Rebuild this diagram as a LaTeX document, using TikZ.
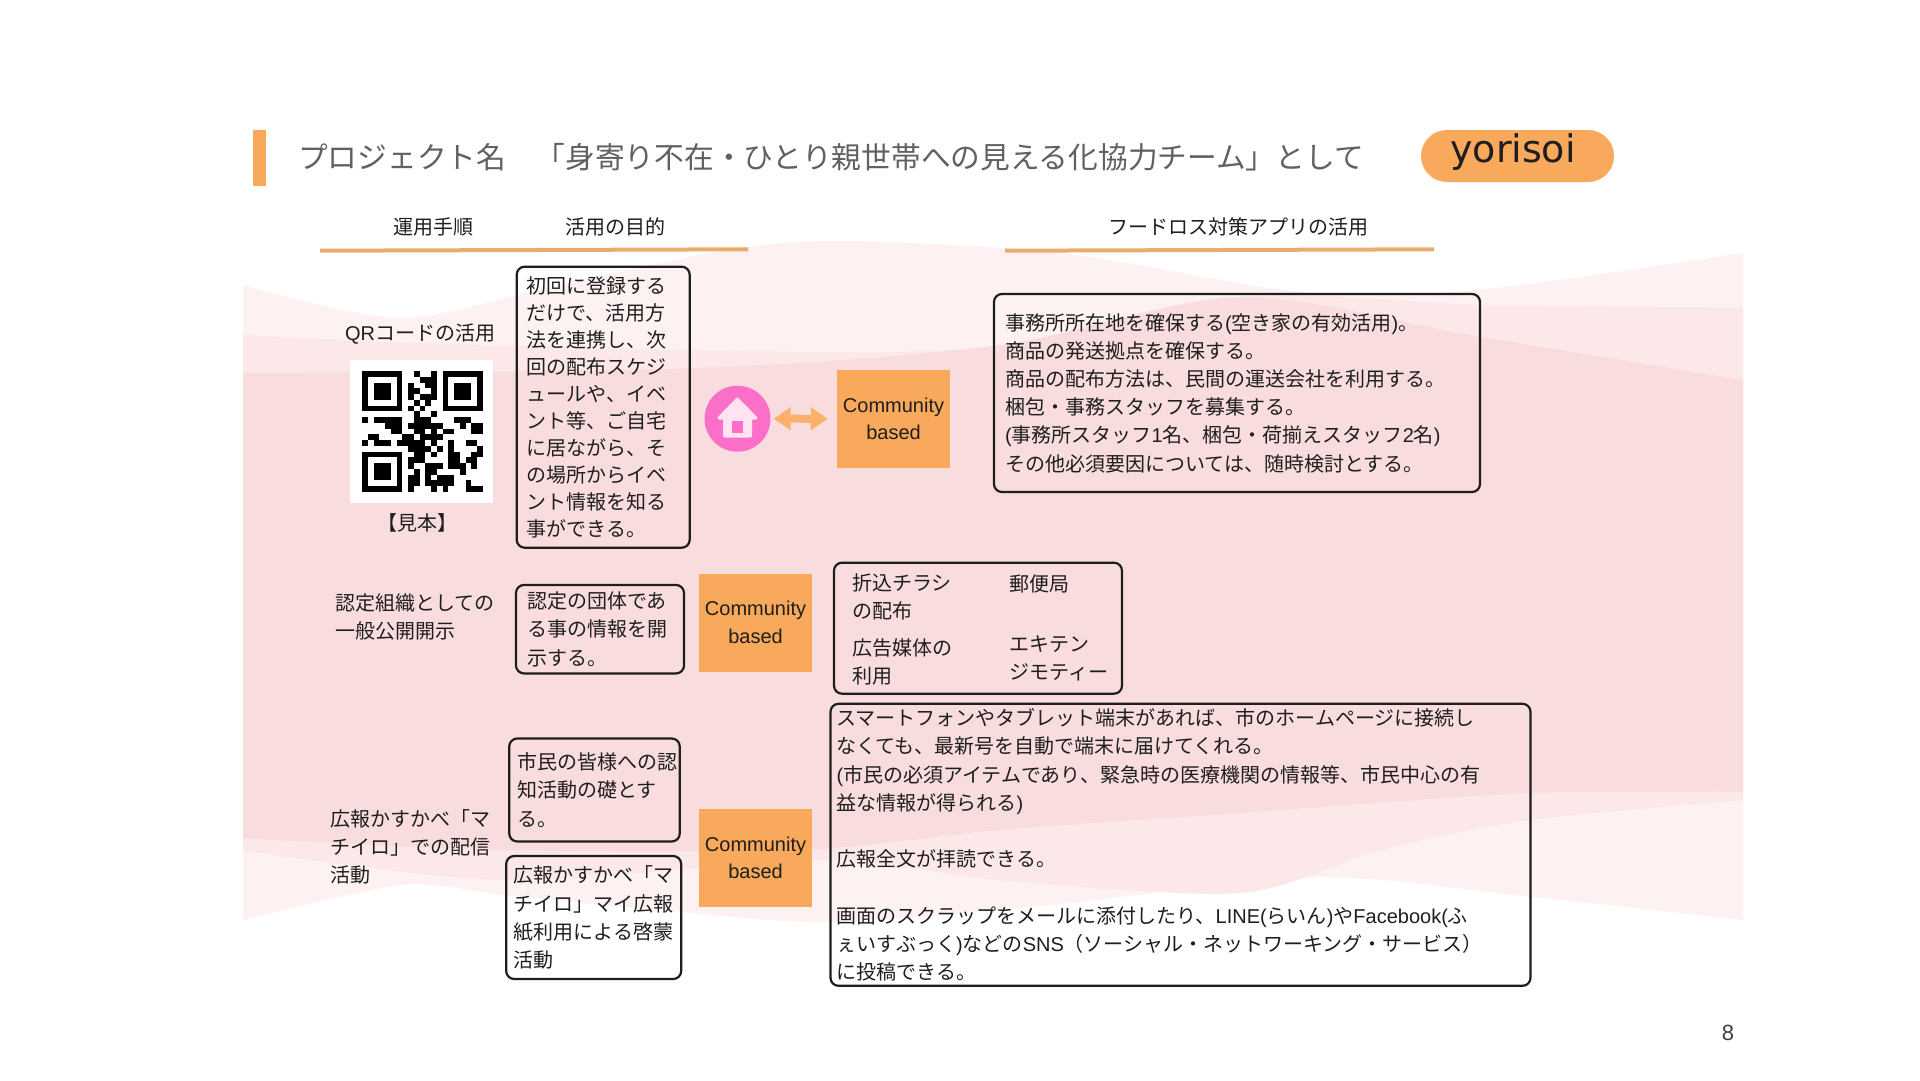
\documentclass[tikz,border=0pt]{standalone}
\usepackage{fontspec}
\setmainfont{Liberation Sans}
\newfontfamily\cjk{Noto Sans CJK JP}
\newcommand{\lat}[1]{{\rmfamily #1}}
\usetikzlibrary{arrows.meta}
\definecolor{barorange}{HTML}{F9A95C}
\definecolor{ruleorange}{HTML}{E8AD6C}
\definecolor{wavelight}{HTML}{FDF1F1}
\definecolor{wavemid}{HTML}{FCE8E8}
\definecolor{wavedark}{HTML}{F9DDDE}
\definecolor{homepink}{HTML}{FB6FC8}
\definecolor{housepale}{HTML}{FDE4F0}
\definecolor{inkdark}{HTML}{1E1E1E}
\begin{document}
\begin{tikzpicture}[x=1pt,y=-1pt]
    % 定义样式
    \tikzstyle{jptext}=[font=\cjk\fontsize{20}{28.2}\selectfont, text=inkdark, align=left, inner sep=0pt]
    \tikzstyle{infobox}=[jptext, draw=inkdark, line width=2.2pt, rounded corners=8pt, inner ysep=0pt]
    \tikzstyle{cbox}=[fill=barorange, font=\fontsize{20}{27.8}\selectfont, text=inkdark, align=center, minimum width=113pt, minimum height=98pt, inner sep=0pt]
    \tikzstyle{headrule}=[line width=4pt, ruleorange]
    \tikzstyle{dblarrow}=[{Triangle[length=17pt,width=22pt]}-{Triangle[length=17pt,width=22pt]}, line width=8pt, barorange!90!white, shorten <=3pt, shorten >=9pt]

    \useasboundingbox (0,0) rectangle (1920,1080);
    \fill[white] (0,0) rectangle (1920,1080);

    % 1. 画背景波浪
    \fill[wavelight] plot[smooth] coordinates {(243,285) (400,318) (560,285) (784,243) (1050,252) (1300,292) (1478,290) (1743,253)}
        -- plot[smooth] coordinates {(1743,920) (1533,897) (1316,877) (1050,905) (829,922) (660,910) (505,895) (402,885) (243,920)} -- cycle;
    \fill[wavemid] plot[smooth] coordinates {(243,335) (480,345) (960,350) (1240,297) (1481,305) (1743,308)}
        -- plot[smooth] coordinates {(1743,800) (1529,820) (1380,850) (1240,893) (1000,880) (820,860) (505,880) (243,850)} -- cycle;
    \fill[wavedark] plot[smooth] coordinates {(243,373) (700,368) (1000,345) (1240,297) (1481,337) (1743,380)}
        -- plot[smooth] coordinates {(1743,792) (1529,793) (1240,813) (1000,830) (800,850) (500,850) (243,838)} -- cycle;

    % 2. 画标题
    \fill[barorange] (253,130) rectangle (266,186);
    \node[font=\cjk\fontsize{29.7}{34}\selectfont, text=black!62, anchor=west, inner sep=0pt] (title) at (298,157)
        {プロジェクト名　「身寄り不在・ひとり親世帯への見える化協力チーム」として};
    \node[fill=barorange, rounded corners=26pt, minimum width=193pt, minimum height=52pt, inner sep=0pt, text=inkdark] (logo) at (1517.5,156) {};
    \node[font=\fontspec{DejaVu Sans}\fontsize{38}{40}\selectfont, text=inkdark, inner sep=0pt] (logotext) at (1513,152) {yorisoi};

    % 3. 画表头
    \node[jptext] (headstep) at (433.5,226.5) {運用手順};
    \node[jptext] (headgoal) at (615,226.5) {活用の目的};
    \node[jptext] (headapp) at (1238,226.5) {フードロス対策アプリの活用};
    \draw[headrule] (320,250.7) -- (748,249.3);
    \draw[headrule] (1005,250.7) -- (1434,249.3);

    % 4. 第一行: 二维码
    \node[jptext] (qrlabel) at (420,333.7) {\lat{QR}コードの活用};
    \fill[white] (350,360) rectangle (493,503);
    \def\qrs{5.75}
    \foreach \fx/\fy in {0/0,14/0,0/14} {
        \fill[black] ({362+\fx*\qrs},{371+\fy*\qrs}) rectangle ++({7*\qrs},{7*\qrs});
        \fill[white] ({362+(\fx+1)*\qrs},{371+(\fy+1)*\qrs}) rectangle ++({5*\qrs},{5*\qrs});
        \fill[black] ({362+(\fx+2)*\qrs},{371+(\fy+2)*\qrs}) rectangle ++({3*\qrs},{3*\qrs});
    }
    \foreach \qy/\qcols in {0/{9,12},1/{10,11,12},2/{8,11,12},3/{8,9,12},4/{8,10,11,12},5/{9,11},6/{8,10},7/{9,12},
        8/{0,2,3,4,5,6,9,10,11,16,17,18},9/{4,5,6,8,9,10,11,12,13,17,19,20},10/{5,6,9,10,12,14,15,19,20},
        11/{1,2,7,8,10,11,12,13},12/{0,2,3,4,6,7,8,9,10,12,15,18,19},13/{8,9,10,11,13,15,20},
        14/{9,10,12,15,16,19,20},15/{8,9,10,15,16,18,19},16/{8,11,12,13,15,16,17,19},17/{9,11,12,17},
        18/{8,9,11,13,14,15},19/{8,9,11,12,13,14,15,18},20/{8,12,14,18,19,20}} {
        \foreach \qx in \qcols {
            \fill[black] ({362+\qx*\qrs},{371+\qy*\qrs}) rectangle ++(5.85,5.85);
        }
    }
    \node[jptext] (qrsample) at (417,523) {【見本】};

    \node[infobox, font=\cjk\fontsize{20}{27}\selectfont, minimum width=173pt, minimum height=281pt, text width=153pt, inner xsep=10pt] (goalqr) at (603.2,407.2)
        {初回に登録する\\だけで、活用方\\法を連携し、次\\回の配布スケジ\\ュールや、イベ\\ント等、ご自宅\\に居ながら、そ\\の場所からイベ\\ント情報を知る\\事ができる。};

    % 房子图标
    \node[circle, fill=homepink, minimum size=66pt, inner sep=0pt] (home) at (737.5,418.7) {};
    \fill[housepale, draw=housepale, line width=3pt, line join=round] (737.3,399) -- (719,418) -- (724.5,418) -- (724.5,436) -- (750.5,436) -- (750.5,418) -- (756,418) -- cycle;
    \fill[homepink] (731.7,421) rectangle (743.3,432.7);

    \node[cbox] (cbtop) at (893.5,418.8) {Community\\based};
    \draw[dblarrow] (home) -- (cbtop);

    \node[infobox, minimum width=486pt, minimum height=198pt, text width=464pt, inner xsep=11pt] (apptop) at (1237,393)
        {事務所所在地を確保する\lat{(}空き家の有効活用\lat{)}。\\商品の発送拠点を確保する。\\商品の配布方法は、民間の運送会社を利用する。\\梱包・事務スタッフを募集する。\\\lat{(}事務所スタッフ\lat{1}名、梱包・荷揃えスタッフ\lat{2}名\lat{)}\\その他必須要因については、随時検討とする。};

    % 5. 第二行: 认定组织
    \node[jptext, anchor=west] (orglabel) at (335,616.6) {認定組織としての\\一般公開開示};
    \node[infobox, minimum width=166pt, minimum height=88.5pt, text width=146pt, inner xsep=11pt] (goalorg) at (600,629.2)
        {認定の団体であ\\る事の情報を開\\示する。};
    \node[cbox] (cbmid) at (755.5,622.6) {Community\\based};
    \node[infobox, minimum width=288pt, minimum height=131pt] (apporg) at (978,628.2) {};
    \node[jptext, anchor=west] (flyer) at (852,597) {折込チラシ\\の配布};
    \node[jptext, anchor=west] (media) at (852,662) {広告媒体の\\利用};
    \node[jptext, anchor=west] (post) at (1009,583.5) {郵便局};
    \node[jptext, anchor=west] (ekiten) at (1009,658) {エキテン\\ジモティー};

    % 6. 第三行: 广报
    \node[jptext, anchor=west] (maclabel) at (330,846.7) {広報かすかべ「マ\\チイロ」での配信\\活動};
    \node[infobox, minimum width=170.5pt, minimum height=103pt, text width=154pt, inner xsep=8pt] (goalmac) at (594.5,790)
        {市民の皆様への認\\知活動の礎とす\\る。};
    \node[infobox, minimum width=174.5pt, minimum height=123pt, text width=160pt, inner xsep=7.5pt] (goalpaper) at (593.7,917.5)
        {広報かすかべ「マ\\チイロ」マイ広報\\紙利用による啓蒙\\活動};
    \node[cbox] (cbbot) at (755.5,857.8) {Community\\based};
    \node[infobox, minimum width=700pt, minimum height=282pt, text width=688pt, inner xsep=6pt] (appbig) at (1180.5,844.8)
        {スマートフォンやタブレット端末があれば、市のホームページに接続し\\なくても、最新号を自動で端末に届けてくれる。\\\lat{(}市民の必須アイテムであり、緊急時の医療機関の情報等、市民中心の有\\益な情報が得られる\lat{)}\\[28.2pt]広報全文が拝読できる。\\[28.2pt]画面のスクラップをメールに添付したり、\lat{LINE(}らいん\lat{)}や\lat{Facebook(}ふ\\ぇいすぶっく\lat{)}などの\lat{SNS}（ソーシャル・ネットワーキング・サービス）\\に投稿できる。};

    % 7. 页码
    \node[font=\fontsize{22}{24}\selectfont, text=black!75, inner sep=0pt] (pageno) at (1728,1033) {8};
\end{tikzpicture}
\end{document}
